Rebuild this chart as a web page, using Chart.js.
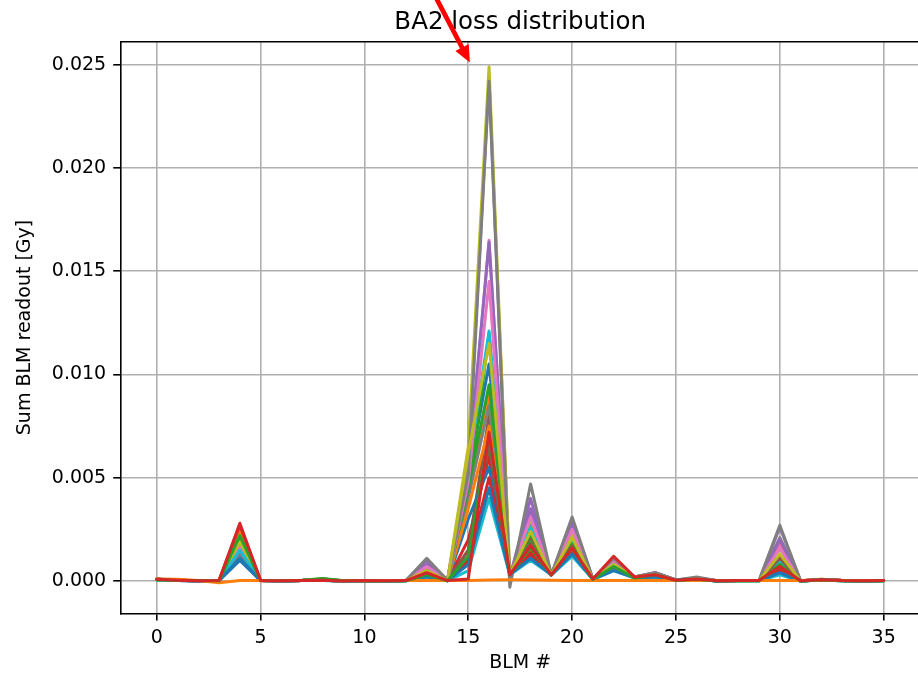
<!DOCTYPE html>
<html>
<head>
<meta charset="utf-8">
<title>BA2 loss distribution</title>
<script src="https://cdn.jsdelivr.net/npm/chart.js@4"></script>
<style>
  html, body { margin: 0; padding: 0; background: #fff; overflow: hidden; }
  #wrap { width: 924px; height: 674px; }
</style>
</head>
<body>
<div id="wrap"><canvas id="loss-chart"></canvas></div>
<script>
// BLM numbers along the ring
const blmIndex = [
  0, 1, 2, 3, 4, 5, 6, 7, 8, 9, 10, 11, 12, 13, 14, 15, 16, 17,
  18, 19, 20, 21, 22, 23, 24, 25, 26, 27, 28, 29, 30, 31, 32, 33, 34, 35
];

const xTicks = [0, 5, 10, 15, 20, 25, 30, 35];
const yTicks = [0, 0.005, 0.010, 0.015, 0.020, 0.025];

const chartTitle = "BA2 loss distribution";

// Summed BLM readout [Gy] for each run, one value per BLM
const run01 = [
  0.00010, 0.00005, 0.00000, 0.00002, 0.00100, 0.00002, 0.00000, 0.00003, 0.00004, 0.00000, 0.00002, 0.00000, 0.00002, 0.00030, 0.00002, 0.00500, 0.01050, 0.00030,
  0.00180, 0.00030, 0.00170, 0.00010, 0.00070, 0.00020, 0.00030, 0.00004, 0.00010, 0.00000, 0.00003, 0.00002, 0.00080, 0.00000, 0.00006, 0.00002, 0.00000, 0.00002
];
const run02 = [
  0.00008, 0.00004, 0.00001, 0.00003, 0.00240, 0.00001, 0.00001, 0.00002, 0.00005, 0.00000, 0.00002, 0.00001, 0.00003, 0.00040, 0.00003, 0.00450, 0.00900, 0.00030,
  0.00200, 0.00030, 0.00190, 0.00010, 0.00080, 0.00020, 0.00030, 0.00005, 0.00010, 0.00001, 0.00002, 0.00002, 0.00190, 0.00001, 0.00008, 0.00002, 0.00001, 0.00002
];
const run03 = [
  0.00006, 0.00003, 0.00002, 0.00001, 0.00220, 0.00003, 0.00002, 0.00004, 0.00010, 0.00001, 0.00001, 0.00000, 0.00001, 0.00030, 0.00001, 0.00400, 0.01200, 0.00020,
  0.00220, 0.00030, 0.00200, 0.00008, 0.00070, 0.00015, 0.00020, 0.00003, 0.00008, 0.00000, 0.00002, 0.00001, 0.00090, 0.00000, 0.00005, 0.00001, 0.00000, 0.00001
];
const run04 = [
  0.00009, 0.00004, 0.00001, 0.00002, 0.00260, 0.00002, 0.00001, 0.00002, 0.00004, 0.00000, 0.00002, 0.00001, 0.00002, 0.00040, 0.00002, 0.00200, 0.00600, 0.00030,
  0.00140, 0.00030, 0.00140, 0.00010, 0.00080, 0.00020, 0.00030, 0.00004, 0.00010, 0.00001, 0.00003, 0.00002, 0.00060, 0.00001, 0.00006, 0.00002, 0.00001, 0.00002
];
const run05 = [
  0.00007, 0.00003, 0.00001, 0.00002, 0.00130, 0.00002, 0.00001, 0.00003, 0.00004, 0.00001, 0.00002, 0.00001, 0.00003, 0.00100, 0.00003, 0.00580, 0.02430, 0.00020,
  0.00400, 0.00030, 0.00300, 0.00010, 0.00110, 0.00020, 0.00040, 0.00005, 0.00015, 0.00001, 0.00003, 0.00002, 0.00260, 0.00001, 0.00006, 0.00002, 0.00001, 0.00002
];
const run06 = [
  0.00008, 0.00004, 0.00001, 0.00002, 0.00150, 0.00002, 0.00001, 0.00002, 0.00004, 0.00000, 0.00002, 0.00001, 0.00002, 0.00050, 0.00002, 0.00150, 0.00800, 0.00030,
  0.00200, 0.00030, 0.00180, 0.00010, 0.00080, 0.00020, 0.00030, 0.00004, 0.00010, 0.00001, 0.00003, 0.00002, 0.00120, 0.00001, 0.00006, 0.00002, 0.00001, 0.00002
];
const run07 = [
  0.00007, 0.00003, 0.00001, 0.00002, 0.00180, 0.00002, 0.00001, 0.00002, 0.00004, 0.00001, 0.00002, 0.00001, 0.00002, 0.00070, 0.00002, 0.00500, 0.01650, 0.00020,
  0.00340, 0.00030, 0.00260, 0.00010, 0.00100, 0.00020, 0.00040, 0.00004, 0.00012, 0.00001, 0.00003, 0.00002, 0.00170, 0.00001, 0.00006, 0.00002, 0.00001, 0.00002
];
const run08 = [
  0.00007, 0.00003, 0.00001, 0.00002, 0.00120, 0.00002, 0.00001, 0.00002, 0.00004, 0.00001, 0.00002, 0.00001, 0.00002, 0.00080, 0.00003, 0.00400, 0.00850, 0.00010,
  0.00280, 0.00030, 0.00220, 0.00010, 0.00090, 0.00020, 0.00030, 0.00005, 0.00014, 0.00001, 0.00003, 0.00002, 0.00210, 0.00001, 0.00006, 0.00002, 0.00001, 0.00002
];
const run09 = [
  0.00008, 0.00004, 0.00001, 0.00002, 0.00200, 0.00002, 0.00001, 0.00002, 0.00004, 0.00000, 0.00002, 0.00001, 0.00002, 0.00060, 0.00002, 0.00650, 0.02490, 0.00030,
  0.00300, 0.00030, 0.00220, 0.00010, 0.00090, 0.00020, 0.00030, 0.00004, 0.00010, 0.00001, 0.00003, 0.00002, 0.00110, 0.00001, 0.00006, 0.00002, 0.00001, 0.00002
];
const run10 = [
  0.00006, 0.00003, 0.00001, 0.00002, 0.00160, 0.00002, 0.00001, 0.00002, 0.00003, 0.00000, 0.00001, 0.00000, 0.00001, 0.00030, 0.00001, 0.00550, 0.01210, 0.00030,
  0.00260, 0.00030, 0.00200, 0.00010, 0.00080, 0.00020, 0.00030, 0.00003, 0.00008, 0.00000, 0.00002, 0.00001, 0.00100, 0.00000, 0.00005, 0.00001, 0.00000, 0.00001
];
const run11 = [
  0.00009, 0.00004, 0.00000, 0.00002, 0.00110, 0.00002, 0.00000, 0.00003, 0.00004, 0.00000, 0.00002, 0.00000, 0.00002, 0.00020, 0.00002, 0.00300, 0.00550, 0.00030,
  0.00120, 0.00030, 0.00130, 0.00008, 0.00060, 0.00015, 0.00020, 0.00004, 0.00008, 0.00000, 0.00003, 0.00002, 0.00040, 0.00000, 0.00006, 0.00002, 0.00000, 0.00002
];
const run12 = [
  0.00008, 0.00004, 0.00001, 0.00003, 0.00250, 0.00001, 0.00001, 0.00002, 0.00005, 0.00000, 0.00002, 0.00001, 0.00003, 0.00030, 0.00003, 0.00350, 0.00750, 0.00030,
  0.00170, 0.00030, 0.00160, 0.00010, 0.00070, 0.00020, 0.00030, 0.00005, 0.00010, 0.00001, 0.00002, 0.00002, 0.00160, 0.00001, 0.00008, 0.00002, 0.00001, 0.00002
];
const run13 = [
  0.00006, 0.00003, 0.00002, 0.00001, 0.00210, 0.00003, 0.00002, 0.00004, 0.00012, 0.00001, 0.00001, 0.00000, 0.00001, 0.00040, 0.00001, 0.00450, 0.00950, 0.00030,
  0.00190, 0.00030, 0.00180, 0.00008, 0.00070, 0.00015, 0.00030, 0.00003, 0.00008, 0.00000, 0.00002, 0.00001, 0.00080, 0.00000, 0.00005, 0.00001, 0.00000, 0.00001
];
const run14 = [
  0.00009, 0.00004, 0.00001, 0.00002, 0.00270, 0.00002, 0.00001, 0.00002, 0.00004, 0.00000, 0.00002, 0.00001, 0.00002, 0.00030, 0.00002, 0.00100, 0.00500, 0.00030,
  0.00130, 0.00030, 0.00130, 0.00010, 0.00070, 0.00020, 0.00030, 0.00004, 0.00010, 0.00001, 0.00003, 0.00002, 0.00050, 0.00001, 0.00006, 0.00002, 0.00001, 0.00002
];
const run15 = [
  0.00007, 0.00003, 0.00001, 0.00002, 0.00140, 0.00002, 0.00001, 0.00003, 0.00004, 0.00001, 0.00002, 0.00001, 0.00003, 0.00080, 0.00003, 0.00550, 0.01640, 0.00020,
  0.00350, 0.00030, 0.00280, 0.00010, 0.00100, 0.00020, 0.00040, 0.00005, 0.00012, 0.00001, 0.00003, 0.00002, 0.00200, 0.00001, 0.00006, 0.00002, 0.00001, 0.00002
];
const run16 = [
  0.00008, 0.00004, 0.00001, 0.00002, 0.00160, 0.00002, 0.00001, 0.00002, 0.00004, 0.00000, 0.00002, 0.00001, 0.00002, 0.00050, 0.00002, 0.00150, 0.00650, 0.00030,
  0.00180, 0.00030, 0.00170, 0.00010, 0.00070, 0.00020, 0.00030, 0.00004, 0.00010, 0.00001, 0.00003, 0.00002, 0.00110, 0.00001, 0.00006, 0.00002, 0.00001, 0.00002
];
const run17 = [
  0.00007, 0.00003, 0.00001, 0.00002, 0.00170, 0.00002, 0.00001, 0.00002, 0.00004, 0.00001, 0.00002, 0.00001, 0.00002, 0.00070, 0.00002, 0.00480, 0.01450, 0.00020,
  0.00310, 0.00030, 0.00250, 0.00010, 0.00100, 0.00020, 0.00030, 0.00004, 0.00012, 0.00001, 0.00003, 0.00002, 0.00160, 0.00001, 0.00006, 0.00002, 0.00001, 0.00002
];
const run18 = [
  0.00007, 0.00003, 0.00001, 0.00002, 0.00120, 0.00002, 0.00001, 0.00002, 0.00004, 0.00001, 0.00002, 0.00001, 0.00002, 0.00110, 0.00003, 0.00520, 0.02420, -0.00030,
  0.00470, 0.00030, 0.00310, 0.00010, 0.00110, 0.00020, 0.00040, 0.00005, 0.00020, 0.00001, 0.00003, 0.00002, 0.00270, 0.00001, 0.00006, 0.00002, 0.00001, 0.00002
];
const run19 = [
  0.00008, 0.00004, 0.00001, 0.00002, 0.00190, 0.00002, 0.00001, 0.00002, 0.00004, 0.00000, 0.00002, 0.00001, 0.00002, 0.00050, 0.00002, 0.00620, 0.01150, 0.00030,
  0.00240, 0.00030, 0.00210, 0.00010, 0.00080, 0.00020, 0.00030, 0.00004, 0.00010, 0.00001, 0.00003, 0.00002, 0.00130, 0.00001, 0.00006, 0.00002, 0.00001, 0.00002
];
const run20 = [
  0.00006, 0.00003, 0.00001, 0.00002, 0.00150, 0.00002, 0.00001, 0.00002, 0.00003, 0.00000, 0.00001, 0.00000, 0.00001, 0.00020, 0.00001, 0.00050, 0.00400, 0.00030,
  0.00100, 0.00030, 0.00120, 0.00008, 0.00050, 0.00015, 0.00020, 0.00003, 0.00008, 0.00000, 0.00002, 0.00001, 0.00030, 0.00000, 0.00005, 0.00001, 0.00000, 0.00001
];
const run21 = [
  0.00009, 0.00004, 0.00000, 0.00002, 0.00110, 0.00002, 0.00000, 0.00003, 0.00004, 0.00000, 0.00002, 0.00000, 0.00002, 0.00020, 0.00002, 0.00080, 0.00450, 0.00030,
  0.00110, 0.00030, 0.00130, 0.00008, 0.00050, 0.00015, 0.00020, 0.00004, 0.00008, 0.00000, 0.00003, 0.00002, 0.00040, 0.00000, 0.00006, 0.00002, 0.00000, 0.00002
];
// reference run with practically no losses
const run22 = [
  0.00010, 0.00008, 0.00003, -0.00008, 0.00002, 0.00003, 0.00002, 0.00002, 0.00002, 0.00002, 0.00002, 0.00002, 0.00002, 0.00002, 0.00002, 0.00003, 0.00005, 0.00006,
  0.00005, 0.00004, 0.00003, 0.00003, 0.00003, 0.00003, 0.00002, 0.00002, 0.00002, 0.00002, 0.00002, 0.00002, 0.00002, 0.00002, 0.00002, 0.00002, 0.00002, 0.00002
];
const run23 = [
  0.00006, 0.00003, 0.00002, 0.00001, 0.00220, 0.00003, 0.00002, 0.00004, 0.00010, 0.00001, 0.00001, 0.00000, 0.00001, 0.00030, 0.00001, 0.00120, 0.00700, 0.00030,
  0.00160, 0.00030, 0.00160, 0.00008, 0.00070, 0.00015, 0.00030, 0.00003, 0.00008, 0.00000, 0.00002, 0.00001, 0.00070, 0.00000, 0.00005, 0.00001, 0.00000, 0.00001
];
const run24 = [
  0.00009, 0.00004, 0.00001, 0.00002, 0.00280, 0.00002, 0.00001, 0.00002, 0.00004, 0.00000, 0.00002, 0.00001, 0.00002, 0.00040, 0.00002, 0.00010, 0.00720, 0.00030,
  0.00170, 0.00030, 0.00160, 0.00010, 0.00120, 0.00020, 0.00030, 0.00004, 0.00010, 0.00001, 0.00003, 0.00002, 0.00070, 0.00001, 0.00006, 0.00002, 0.00001, 0.00002
];

// arrow pointing at the main loss location (data coordinates: [BLM, Gy])
const arrowTail = [13.0, 0.0291];
const arrowHead = [15.08, 0.0251];

const runs = [
  run01, run02, run03, run04, run05, run06, run07, run08, run09, run10, run11, run12,
  run13, run14, run15, run16, run17, run18, run19, run20, run21, run22, run23, run24
];

// matplotlib "tab10" cycle
const tab10 = [
  "#1f77b4", "#ff7f0e", "#2ca02c", "#d62728", "#9467bd",
  "#8c564b", "#e377c2", "#7f7f7f", "#bcbd22", "#17becf"
];

const FONT = "'DejaVu Sans', 'Liberation Sans', sans-serif";
Chart.defaults.font.family = FONT;
Chart.defaults.font.size = 19;
Chart.defaults.color = "#000";

// later runs are painted over earlier ones
const datasets = runs.map((values, i) => ({
  data: values.map((v, k) => ({ x: blmIndex[k], y: v })),
  order: runs.length - i,
  borderColor: tab10[i % tab10.length],
  backgroundColor: tab10[i % tab10.length],
  borderWidth: 3,
  borderJoinStyle: "round",
  borderCapStyle: "round",
  pointRadius: 0,
  fill: false,
  tension: 0
}));

// title centred over the axes, top/right spines and the red arrow
const frameAndArrow = {
  id: "frameAndArrow",
  afterDraw(chart) {
    const { ctx, chartArea, scales } = chart;
    ctx.save();
    ctx.strokeStyle = "#000";
    ctx.lineWidth = 1.6;
    ctx.beginPath();
    ctx.moveTo(chartArea.left, chartArea.top);
    ctx.lineTo(chartArea.right, chartArea.top);
    ctx.lineTo(chartArea.right, chartArea.bottom);
    ctx.stroke();

    ctx.fillStyle = "#000";
    ctx.font = "24.5px " + FONT;
    ctx.textAlign = "center";
    ctx.textBaseline = "alphabetic";
    ctx.fillText(chartTitle, (chartArea.left + chartArea.right) / 2, chartArea.top - 12.5);

    const x0 = scales.x.getPixelForValue(arrowTail[0]);
    const y0 = scales.y.getPixelForValue(arrowTail[1]);
    const x1 = scales.x.getPixelForValue(arrowHead[0]);
    const y1 = scales.y.getPixelForValue(arrowHead[1]);
    const len = Math.hypot(x1 - x0, y1 - y0);
    const ux = (x1 - x0) / len, uy = (y1 - y0) / len;
    const nx = -uy, ny = ux;
    const headLen = 17, headHalf = 7.5, shaftHalf = 2.4;
    const bx = x1 - ux * headLen, by = y1 - uy * headLen;

    ctx.fillStyle = "#ff0000";
    ctx.beginPath();
    ctx.moveTo(x0 + nx * shaftHalf, y0 + ny * shaftHalf);
    ctx.lineTo(bx + nx * shaftHalf, by + ny * shaftHalf);
    ctx.lineTo(bx + nx * headHalf, by + ny * headHalf);
    ctx.lineTo(x1, y1);
    ctx.lineTo(bx - nx * headHalf, by - ny * headHalf);
    ctx.lineTo(bx - nx * shaftHalf, by - ny * shaftHalf);
    ctx.lineTo(x0 - nx * shaftHalf, y0 - ny * shaftHalf);
    ctx.closePath();
    ctx.fill();
    ctx.restore();
  }
};

new Chart(document.getElementById("loss-chart"), {
  type: "line",
  data: { datasets },
  plugins: [frameAndArrow],
  options: {
    responsive: true,
    maintainAspectRatio: false,
    animation: false,
    events: [],
    layout: { padding: { left: 0, right: 4, top: 41.7, bottom: 0 } },
    plugins: {
      legend: { display: false },
      tooltip: { enabled: false },
      title: { display: false }
    },
    scales: {
      x: {
        type: "linear",
        min: -1.75,
        max: 36.75,
        afterFit: (s) => { s.height = 60.7; },
        afterBuildTicks: (s) => { s.ticks = xTicks.map((v) => ({ value: v })); },
        ticks: { padding: 6, maxRotation: 0, callback: (v) => String(v) },
        grid: {
          color: "#b0b0b0",
          lineWidth: 1.6,
          drawTicks: true,
          tickLength: 7.2,
          tickColor: "#000",
          tickWidth: 1.6
        },
        border: { display: true, color: "#000", width: 1.6 },
        title: {
          display: true,
          text: "BLM #",
          color: "#000",
          font: { family: FONT, size: 19, lineHeight: 1.2 },
          padding: { top: 0, bottom: 0 }
        }
      },
      y: {
        type: "linear",
        min: -0.001563,
        max: 0.02611,
        afterFit: (s) => { s.width = 120.4; },
        afterBuildTicks: (s) => { s.ticks = yTicks.map((v) => ({ value: v })); },
        ticks: { padding: 7, callback: (v) => v.toFixed(3) },
        grid: {
          color: "#b0b0b0",
          lineWidth: 1.6,
          drawTicks: true,
          tickLength: 7.2,
          tickColor: "#000",
          tickWidth: 1.6
        },
        border: { display: true, color: "#000", width: 1.6 },
        title: {
          display: true,
          text: "Sum BLM readout [Gy]",
          color: "#000",
          font: { family: FONT, size: 19, lineHeight: 1.2 },
          padding: { top: 14, bottom: 0 }
        }
      }
    }
  }
});
</script>
</body>
</html>
